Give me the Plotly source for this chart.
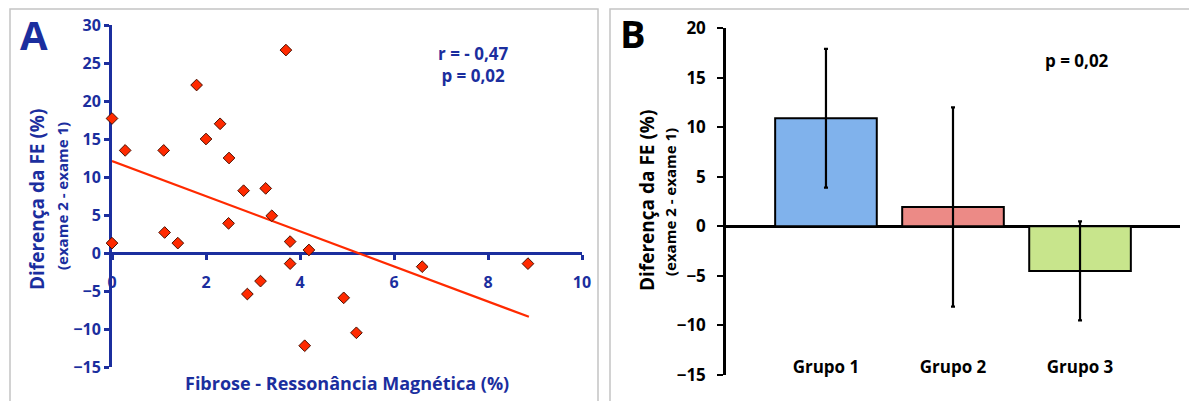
import plotly.graph_objects as go

# ---------------- data ----------------
fibrose = [0, 0, 0.28, 1.1, 1.12, 1.4, 1.8, 2.0, 2.3, 2.48, 2.49, 2.8, 2.88,
           3.16, 3.27, 3.4, 3.7, 3.79, 3.79, 4.1, 4.19, 4.93, 5.2, 6.6, 8.85]
diferenca = [17.7, 1.3, 13.5, 13.5, 2.7, 1.3, 22.1, 15.0, 17.0, 3.9, 12.5, 8.2, -5.4,
             -3.7, 8.5, 4.9, 26.7, 1.5, -1.4, -12.2, 0.4, -5.9, -10.5, -1.8, -1.4]
trend_x = [0, 8.87]
trend_y = [12.1, -8.4]

grupos = ["Grupo 1", "Grupo 2", "Grupo 3"]
grupo_media = [10.9, 1.95, -4.5]
grupo_erro = [7.0, 10.05, 5.0]
grupo_cores = ["#80b2ec", "#ec8a86", "#c8e58c"]

x_ticks_a = [0, 2, 4, 6, 8, 10]

# ---------------- helpers ----------------
W, H = 1189, 401
def fx(px):
    return px / W
def fy(py):
    return 1 - py / H

BLUE = "#1b2e9e"
FONT = "Open Sans"

fig = go.Figure()

fig.add_trace(go.Scatter(
    x=trend_x, y=trend_y, mode="lines",
    line=dict(color="#ff2a00", width=2.2),
    xaxis="x", yaxis="y", showlegend=False, hoverinfo="skip"))

fig.add_trace(go.Scatter(
    x=fibrose, y=diferenca, mode="markers",
    marker=dict(symbol="diamond", size=9, color="#ff2a00",
                line=dict(color="#4a1000", width=1)),
    cliponaxis=False, xaxis="x", yaxis="y", showlegend=False))

fig.add_trace(go.Bar(
    x=grupos, y=grupo_media, width=0.8,
    marker=dict(color=grupo_cores, line=dict(color="black", width=2)),
    error_y=dict(type="data", array=grupo_erro, color="black",
                 thickness=2.2, width=2),
    xaxis="x2", yaxis="y2", showlegend=False))

tickfont_a = dict(family=FONT, size=16, color=BLUE, weight="bold")
tickfont_b = dict(family=FONT, size=17, color="black", weight="bold")

fig.update_layout(
    width=W, height=H, autosize=False,
    margin=dict(l=0, r=0, t=0, b=0, pad=0),
    paper_bgcolor="white", plot_bgcolor="rgba(0,0,0,0)",
    bargap=0.2,
    xaxis=dict(
        domain=[fx(112), fx(582)], range=[0, 10],
        tickvals=x_ticks_a, anchor="free", position=fy(253),
        showline=True, linecolor=BLUE, linewidth=3,
        ticks="outside", ticklen=5, tickwidth=2.5, tickcolor=BLUE,
        tickfont=tickfont_a, ticklabelstandoff=9, automargin=False,
        showgrid=False, zeroline=False, layer="below traces"),
    yaxis=dict(
        domain=[fy(367), fy(25)], range=[-15, 30], dtick=5, tick0=0,
        anchor="x", showline=True, linecolor=BLUE, linewidth=3,
        ticks="outside", ticklen=5, tickwidth=2.5, tickcolor=BLUE,
        tickfont=tickfont_a, showgrid=False, zeroline=False, automargin=False,
        layer="below traces"),
    xaxis2=dict(
        domain=[fx(726), fx(1180)], range=[-0.787, 2.787],
        anchor="free", position=fy(355), automargin=False,
        showline=False, ticks="",
        tickfont=dict(family=FONT, size=17, color="black", weight="bold"),
        showgrid=False, zeroline=False),
    yaxis2=dict(
        domain=[fy(375), fy(28)], range=[-15, 20], dtick=5, tick0=0,
        anchor="x2", showline=True, linecolor="black", linewidth=2.5,
        ticks="outside", ticklen=6, tickwidth=2, tickcolor="black",
        tickfont=tickfont_b, ticklabelstandoff=8, automargin=False,
        showgrid=False, zeroline=True, zerolinecolor="black", zerolinewidth=2.5),
)

def ann(text, x, y, size, color, angle=0):
    fig.add_annotation(text=text, x=x, y=y, xref="paper", yref="paper",
                       showarrow=False, textangle=angle,
                       xanchor="center", yanchor="middle", align="center",
                       font=dict(family=FONT, size=size, color=color, weight="bold"))

# Panel A texts
ann("A", fx(34), fy(34), 40, BLUE)
ann("Diferença da FE (%)", fx(37), fy(200), 19, BLUE, -90)
ann("(exame 2 - exame 1)", fx(62), fy(196), 15, BLUE, -90)
ann("Fibrose - Ressonância Magnética (%)", fx(347), fy(383), 18, BLUE)
ann("r = - 0,47<br>p = 0,02", fx(473), fy(64), 17, BLUE)

# Panel B texts
ann("B", fx(633), fy(33), 38, "black")
ann("Diferença da FE (%)", fx(647), fy(201), 19, "black", -90)
ann("(exame 2 - exame 1)", fx(670), fy(202), 15, "black", -90)
ann("p = 0,02", fx(1077), fy(60), 17, "black")

# Panel borders
fig.add_shape(type="rect", xref="paper", yref="paper",
              x0=fx(10), x1=fx(598), y0=-0.05, y1=fy(9),
              line=dict(color="#c4c4c4", width=1.5), layer="below")
fig.add_shape(type="rect", xref="paper", yref="paper",
              x0=fx(610), x1=1.05, y0=-0.05, y1=fy(9),
              line=dict(color="#c4c4c4", width=1.5), layer="below")

fig.write_html(
    "out.html",
    config={"displayModeBar": False},
    post_script="document.body.style.margin='0';document.body.style.overflow='hidden';")
